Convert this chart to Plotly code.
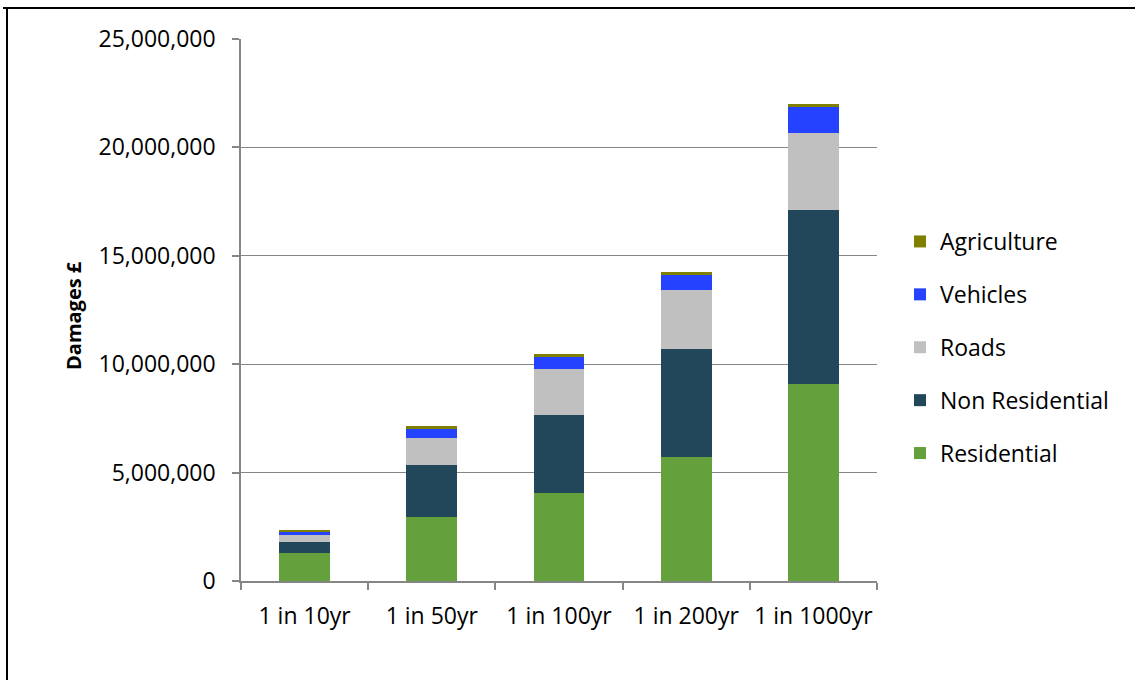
import plotly.graph_objects as go

categories = ["1 in 10yr", "1 in 50yr", "1 in 100yr", "1 in 200yr", "1 in 1000yr"]
residential = [1290000, 2940000, 4050000, 5730000, 9090000]
non_residential = [510000, 2400000, 3600000, 4970000, 8010000]
roads = [320000, 1260000, 2150000, 2720000, 3580000]
vehicles = [170000, 430000, 550000, 690000, 1170000]
agriculture = [80000, 120000, 120000, 120000, 140000]

series = [
    ("Residential", residential, "#64a03b", 5),
    ("Non Residential", non_residential, "#23475a", 4),
    ("Roads", roads, "#c0c0c0", 3),
    ("Vehicles", vehicles, "#2442ff", 2),
    ("Agriculture", agriculture, "#808000", 1),
]

FONT = "Open Sans"

fig = go.Figure()
for name, vals, col, rank in series:
    fig.add_trace(go.Bar(x=categories, y=vals, name=name, marker_color=col,
                         marker_line_width=0, legendgroup=name, legendrank=rank))

W, H = 1135, 680
L, R, T, B = 241, 877, 39, 581

def px_x(p):
    return (p - L) / (R - L)

def px_y(p):
    return (B - p) / (B - T)

fig.update_layout(
    width=W, height=H,
    margin=dict(l=L, r=W - R, t=T, b=H - B, autoexpand=False),
    barmode="stack", bargap=0.6,
    paper_bgcolor="white", plot_bgcolor="white",
    font=dict(family=FONT, size=23, color="black"),
    showlegend=True,
    legend=dict(x=px_x(900), y=px_y(220), xanchor="left", yanchor="top",
                traceorder="grouped", tracegroupgap=20,
                font=dict(family=FONT, size=23), itemwidth=30,
                bgcolor="rgba(0,0,0,0)"),
    xaxis=dict(showline=True, linecolor="#868686", linewidth=1.5,
               ticks="outside", tickson="boundaries", ticklen=7,
               tickcolor="#868686", tickwidth=1.5, ticklabelstandoff=14,
               tickangle=0, tickfont=dict(family=FONT, size=23)),
    yaxis=dict(range=[0, 25000000], tickvals=[0, 5000000, 10000000, 15000000, 20000000, 25000000],
               tickformat=",d", showline=True, linecolor="#868686", linewidth=1.5,
               ticks="outside", ticklen=7, tickcolor="#868686", tickwidth=1.5,
               ticklabelstandoff=12,
               showgrid=True, gridcolor="#868686", gridwidth=1.2,
               zeroline=False, tickfont=dict(family=FONT, size=23)),
    annotations=[dict(text="<b>Damages £</b>", textangle=-90, x=px_x(73), y=px_y(316),
                      xref="paper", yref="paper", xanchor="center", yanchor="middle",
                      showarrow=False,
                      font=dict(family=FONT, size=20, color="black"))],
    shapes=[
        dict(type="line", xref="paper", yref="paper", x0=px_x(3), x1=px_x(1140),
             y0=px_y(8), y1=px_y(8), line=dict(color="black", width=2)),
        dict(type="line", xref="paper", yref="paper", x0=px_x(7), x1=px_x(7),
             y0=px_y(8), y1=px_y(690), line=dict(color="black", width=2)),
    ],
)

fig.write_html("out.html", config={"displayModeBar": False},
               post_script="document.body.style.margin='0';document.body.style.overflow='hidden';")
